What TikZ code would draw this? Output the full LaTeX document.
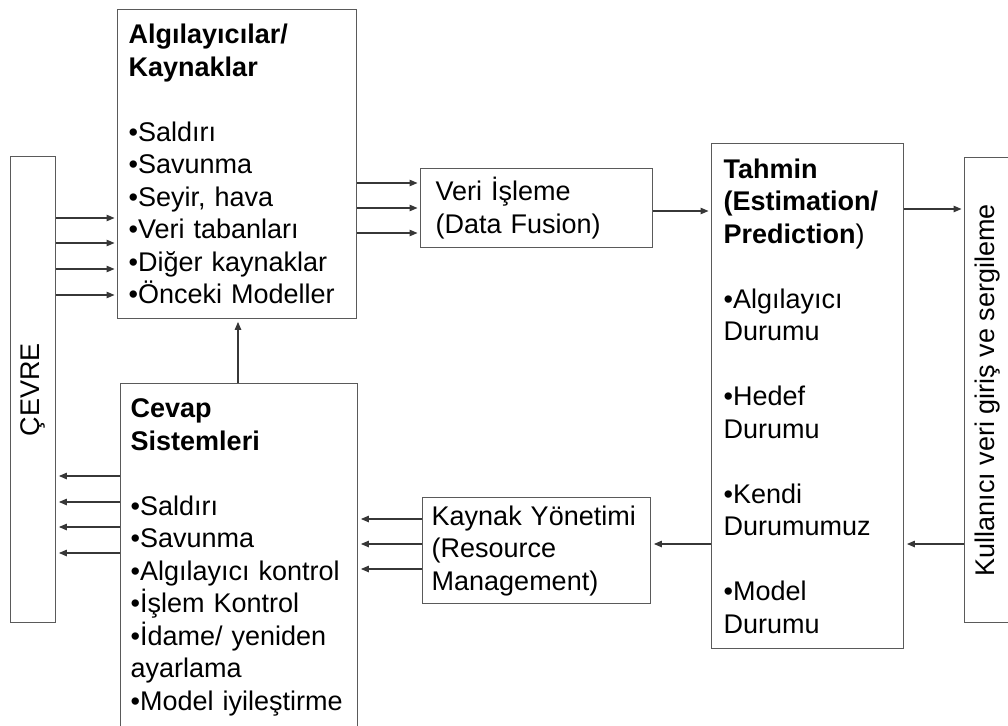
\documentclass[tikz,border=0pt]{standalone}
\usepackage{fontspec}
\setmainfont{Liberation Sans}
\usetikzlibrary{arrows.meta,positioning}
\definecolor{boxGray}{RGB}{90,90,90}
\definecolor{lineGray}{RGB}{55,55,55}

\begin{document}
\begin{tikzpicture}[x=1pt, y=-1pt,
    box/.style={draw=boxGray, line width=1.4pt, anchor=north west, align=left,
      inner xsep=11pt, inner ysep=0pt, font=\fontsize{27}{32.5}\selectfont},
    arr/.style={draw=lineGray, line width=1.2pt, shorten >=2.5pt,
      -{Triangle[length=8pt,width=6.5pt]}}]
    \path[use as bounding box] (0,0) rectangle (1008,725);
    \clip (0,0) rectangle (1008,725);
    % side bars
    \node[box, inner xsep=0pt, minimum width=45pt, minimum height=466pt] (cevre) at (10,156)
      {\rotatebox{90}{ÇEVRE}};
    \node[box, inner xsep=0pt, minimum width=52pt, minimum height=465pt] (kull) at (964,157)
      {\hspace*{-6pt}\rotatebox{90}{Kullanıcı veri giriş ve sergileme}};
    % sources and responses
    \node[box, text width=217pt, minimum height=309pt] (alg) at (117,9)
      {\textbf{Algılayıcılar/}\\\textbf{Kaynaklar}\\[32.5pt]
       •Saldırı\\•Savunma\\•Seyir, hava\\•Veri tabanları\\•Diğer kaynaklar\\•Önceki Modeller};
    \node[box, inner xsep=10pt, text width=217pt, minimum height=347pt] (cevap) at (120,383)
      {\textbf{Cevap}\\\textbf{Sistemleri}\\[32.5pt]
       •Saldırı\\•Savunma\\•Algılayıcı kontrol\\•İşlem Kontrol\\•İdame/ yeniden\\ayarlama\\•Model iyileştirme};
    % processing
    \node[box, inner xsep=15pt, text width=202pt, minimum height=79pt] (veri) at (420,168)
      {Veri İşleme\\(Data Fusion)};
    \node[box, inner xsep=9pt, text width=210pt, minimum height=106pt] (kaynak) at (422,497)
      {Kaynak Yönetimi\\(Resource\\Management)};
    \node[box, inner xsep=12pt, text width=168pt, minimum height=505pt] (tahmin) at (711,143)
      {\textbf{Tahmin}\\\textbf{(Estimation/}\\\textbf{Prediction})\\[32.5pt]
       •Algılayıcı\\Durumu\\[32.5pt]•Hedef\\Durumu\\[32.5pt]
       •Kendi\\Durumumuz\\[32.5pt]•Model\\Durumu};
    % forward flow
    \foreach \y in {218,243,269,295}
      \draw[arr] (cevre.east |- 0,\y) -- (alg.west |- 0,\y);
    \foreach \y in {183,208,233}
      \draw[arr] (alg.east |- 0,\y) -- (veri.west |- 0,\y);
    \draw[arr] (veri.east |- 0,211) -- (tahmin.west |- 0,211);
    \draw[arr] (tahmin.east |- 0,209) -- (kull.west |- 0,209);
    % feedback flow
    \draw[arr] (kull.west |- 0,544) -- (tahmin.east |- 0,544);
    \draw[arr] (tahmin.west |- 0,544) -- (kaynak.east |- 0,544);
    \foreach \y in {519,544,569}
      \draw[arr] (kaynak.west |- 0,\y) -- (cevap.east |- 0,\y);
    \foreach \y in {476,502,527,553}
      \draw[arr] (cevap.west |- 0,\y) -- (cevre.east |- 0,\y);
    \draw[arr] (cevap.north -| 238,0) -- (alg.south -| 238,0);
\end{tikzpicture}
\end{document}
